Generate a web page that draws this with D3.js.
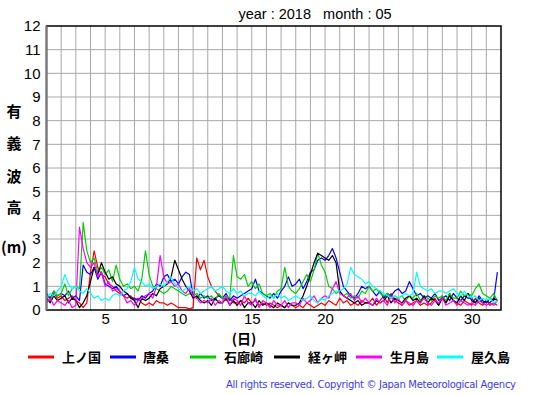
<!DOCTYPE html>
<html>
<head>
<meta charset="utf-8">
<script src="https://cdn.jsdelivr.net/npm/d3@7"></script>
<style>
  body { margin: 0; background: #fff; }
  svg { display: block; }
</style>
</head>
<body>
<div id="chart"></div>
<script>
// six-hourly wave heights (m), 4 values per day, May 1 - May 31
const stations = ["上ノ国", "唐桑", "石廊崎", "経ヶ岬", "生月島", "屋久島"];
const colors = ["#ff0000", "#0000ff", "#00d000", "#000000", "#ff00ff", "#00ffff"];

const kaminokuni = [
  0.6,0.5,0.7,0.5, 0.6,0.4,0.5,0.6, 0.4,0.3,0.1,0.3, 1.6,2.5,1.8,1.5,
  1.4,1.1,1.0,0.8, 0.7,0.6,0.5,0.6, 0.4,0.5,0.3,0.2, 0.3,0.2,0.4,0.3,
  0.3,0.2,0.3,0.2, 0.1,0.1,0.1,0.05, 0.1,2.2,1.7,2.1, 1.4,1.0,0.8,0.6,
  0.5,0.4,0.5,0.3, 0.3,0.4,0.3,0.5, 0.3,0.4,0.2,0.3, 0.2,0.3,0.2,0.1,
  0.2,0.1,0.3,0.2, 0.1,0.2,0.1,0.3, 0.2,0.1,0.2,0.3, 0.2,0.4,0.3,0.2,
  0.5,0.3,0.4,0.2, 0.3,0.2,0.4,0.3, 0.3,0.5,0.2,0.4, 0.6,0.3,0.7,0.4,
  0.3,0.2,0.4,0.2, 0.3,0.4,0.2,0.3, 0.2,0.3,0.5,0.2, 0.6,0.3,0.7,0.4,
  0.3,0.2,0.4,0.3, 0.2,0.5,0.3,0.2, 0.4,0.2,0.3,0.2
];
const karakuwa = [
  0.7,0.5,0.8,0.6, 0.7,0.6,0.8,0.5, 0.6,0.4,1.9,1.6, 1.5,1.8,1.3,1.6,
  1.1,1.0,0.9,1.0, 0.8,0.6,0.7,0.5, 0.5,0.4,0.6,0.5, 0.7,0.8,1.1,1.0,
  1.4,1.5,1.2,1.3, 1.1,1.4,1.6,1.5, 0.6,0.5,0.7,0.5, 0.6,0.4,0.5,0.6,
  0.5,0.7,0.4,0.6, 0.5,0.6,0.7,0.8, 0.9,1.3,0.8,0.7, 0.6,0.5,0.7,0.5,
  0.8,1.0,1.4,1.0, 1.1,1.3,0.9,1.2, 1.6,1.7,2.1,2.2, 2.1,2.3,2.6,2.2,
  1.6,1.0,0.8,0.6, 0.5,0.7,1.0,0.9, 1.0,0.8,0.6,0.8, 0.5,0.7,0.6,0.8,
  0.9,0.7,0.8,1.2, 0.9,0.6,0.7,0.5, 0.6,0.5,0.7,0.4, 0.5,0.6,0.4,0.7,
  0.5,0.4,0.6,0.5, 0.5,0.3,0.6,0.4, 0.3,0.5,0.4,1.6
];
const irozaki = [
  0.5,0.4,0.8,0.6, 0.7,1.1,0.6,0.9, 1.0,0.9,3.7,2.5, 2.0,2.2,1.6,1.8,
  1.5,1.7,1.2,1.9, 1.3,1.0,1.1,0.9, 1.0,0.8,1.3,2.5, 1.5,1.0,0.9,0.8,
  0.7,0.8,1.0,0.9, 0.8,0.7,0.6,0.7, 0.6,0.7,0.5,0.6, 0.5,0.6,0.4,0.7,
  0.5,0.6,0.5,2.3, 1.4,1.3,1.5,1.0, 1.2,0.9,1.1,0.7, 0.6,0.7,0.5,0.8,
  0.9,1.8,1.0,0.8, 0.7,0.9,1.2,1.5, 1.2,1.7,2.4,1.9, 1.6,1.0,0.9,0.7,
  0.8,0.6,0.7,0.5, 0.6,0.5,0.8,0.7, 1.0,0.8,0.9,0.7, 0.6,0.7,0.5,0.6,
  0.5,0.6,0.4,0.6, 0.5,0.7,0.4,0.6, 0.5,0.4,0.6,0.5, 0.6,0.4,0.7,0.5,
  0.5,0.8,0.6,0.7, 0.6,0.9,1.1,0.7, 0.6,0.5,0.7,0.4
];
const kyogamisaki = [
  0.5,0.3,0.6,0.4, 0.5,0.6,0.3,0.5, 0.4,0.1,0.3,0.6, 1.2,1.8,1.5,2.0,
  1.6,1.3,1.4,1.1, 1.0,0.8,0.7,0.5, 0.4,0.1,0.5,0.4, 0.5,0.7,0.6,0.9,
  1.0,1.1,1.4,2.1, 1.7,1.3,1.0,0.8, 0.5,0.6,0.4,0.3, 0.4,0.2,0.5,0.3,
  0.3,0.5,0.2,0.4, 0.2,0.4,0.1,0.3, 0.3,0.1,0.4,0.2, 0.3,0.2,0.1,0.3,
  0.2,0.1,0.3,0.2, 0.2,0.3,0.6,1.0, 1.5,2.0,2.4,2.3, 2.2,2.1,2.3,2.0,
  0.8,0.6,0.5,0.4, 0.3,0.4,0.2,0.3, 0.3,0.2,0.4,0.3, 0.4,0.6,0.3,0.5,
  0.4,0.3,0.5,0.6, 0.4,0.5,0.3,0.6, 0.3,0.5,0.4,0.2, 0.5,0.3,0.6,0.4,
  0.3,0.6,0.4,0.7, 0.4,0.3,0.5,0.3, 0.4,0.3,0.5,0.4
];
const ikitsukishima = [
  0.3,0.5,0.2,0.4, 0.3,0.2,0.4,0.1, 0.2,3.5,2.6,2.0, 1.8,2.0,1.4,1.6,
  1.0,1.2,0.8,0.9, 0.8,0.6,0.3,0.4, 0.2,0.4,0.5,0.6, 0.7,0.5,1.0,2.3,
  1.4,1.1,1.2,1.0, 1.1,0.8,0.7,0.9, 0.6,0.5,0.3,0.4, 0.3,0.5,0.2,0.4,
  0.3,0.6,0.2,0.5, 0.4,0.2,0.6,0.3, 0.2,0.5,0.1,0.4, 0.3,0.1,0.4,0.2,
  0.2,0.4,0.1,0.3, 0.3,0.2,0.5,0.3, 0.4,0.6,0.3,0.5, 0.6,0.5,0.9,1.2,
  0.7,0.6,0.5,0.7, 0.4,0.6,0.3,0.5, 0.3,0.2,0.5,0.3, 0.4,0.2,0.6,0.3,
  0.5,0.2,0.4,0.3, 0.2,0.4,0.3,0.5, 0.3,0.2,0.4,0.3, 0.5,0.2,0.3,0.4,
  0.2,0.4,0.3,0.2, 0.3,0.2,0.4,0.3, 0.2,0.3,0.2,0.4
];
const yakushima = [
  0.5,0.7,0.6,0.8, 1.0,1.5,1.1,0.9, 1.0,0.8,0.7,0.9, 0.7,0.5,0.6,0.4,
  0.5,0.4,0.6,0.7, 0.6,0.8,0.9,1.2, 1.8,1.3,1.2,1.0, 1.1,0.9,1.0,1.1,
  1.0,1.2,1.4,1.1, 0.9,0.8,0.9,1.0, 0.8,0.9,0.7,0.8, 0.9,1.0,0.8,0.9,
  1.0,0.8,0.7,0.9, 0.7,0.8,0.6,0.7, 0.7,0.6,0.8,0.6, 0.5,0.6,0.5,0.7,
  0.5,0.6,0.4,0.5, 0.6,0.5,0.4,0.5, 0.6,0.4,0.3,0.5, 0.4,0.6,0.7,0.8,
  0.8,0.9,1.1,1.8, 1.5,1.4,1.3,1.1, 1.2,1.0,0.9,0.8, 0.7,0.6,0.5,0.6,
  0.5,0.6,0.7,0.6, 0.7,1.6,1.0,0.9, 0.8,0.9,0.7,0.8, 0.8,0.7,0.8,0.9,
  0.7,0.6,0.8,0.6, 0.5,0.6,0.4,0.5, 0.4,0.5,0.3,0.4
];
const seriesValues = [kaminokuni, karakuwa, irozaki, kyogamisaki, ikitsukishima, yakushima];

const xTicks = [5, 10, 15, 20, 25, 30];
const yTicks = [0, 1, 2, 3, 4, 5, 6, 7, 8, 9, 10, 11, 12];
const yLabelChars = ["有", "義", "波", "高", "(m)"];

const W = 555, H = 395;
const margin = {top: 26, right: 54, bottom: 85, left: 46.5},
    width = W - margin.left - margin.right,
    height = H - margin.top - margin.bottom;

const svg = d3.select("#chart")
  .append("svg")
    .attr("width", W)
    .attr("height", H);

const g = svg.append("g")
    .attr("transform", `translate(${margin.left}, ${margin.top})`);

const x = d3.scaleLinear().domain([1, 32]).range([0, width]);
const y = d3.scaleLinear().domain([0, 12]).range([height, 0]);

// grid
g.append("g")
  .selectAll("line")
  .data(d3.range(2, 32))
  .join("line")
    .attr("x1", d => x(d)).attr("x2", d => x(d))
    .attr("y1", 0).attr("y2", height)
    .attr("stroke", "#a8a8a8").attr("stroke-width", 1);
g.append("g")
  .selectAll("line")
  .data(yTicks.slice(1, -1))
  .join("line")
    .attr("x1", 0).attr("x2", width)
    .attr("y1", d => y(d)).attr("y2", d => y(d))
    .attr("stroke", "#a8a8a8").attr("stroke-width", 1);

g.append("clipPath").attr("id", "clip")
  .append("rect").attr("width", width).attr("height", height);

// series
const line = d3.line()
  .x((d, i) => x(1 + i * 0.25))
  .y(d => y(d));

g.append("g").attr("clip-path", "url(#clip)")
  .selectAll("path")
  .data(seriesValues)
  .join("path")
    .attr("d", d => line(d))
    .attr("fill", "none")
    .attr("stroke", (d, i) => colors[i])
    .attr("stroke-width", 1.2)
    .attr("stroke-linejoin", "round");

// frame
g.append("rect")
  .attr("width", width).attr("height", height)
  .attr("fill", "none").attr("stroke", "#000").attr("stroke-width", 1.5);
g.append("line")
  .attr("x1", 0).attr("x2", 0).attr("y1", 0).attr("y2", height)
  .attr("stroke", "#7a7a7a").attr("stroke-width", 2);

// y axis
const yAxis = g.append("g")
  .call(d3.axisLeft(y).tickValues(yTicks).tickSize(0).tickPadding(6));
yAxis.select(".domain").remove();
yAxis.selectAll("text")
  .attr("font-family", "Liberation Sans, Arial, sans-serif")
  .style("font-size", "15px")
  .attr("fill", "#000");

// x axis
const xAxis = g.append("g")
  .attr("transform", `translate(0, ${height})`)
  .call(d3.axisBottom(x).tickValues(xTicks).tickSize(0).tickPadding(3));
xAxis.select(".domain").remove();
xAxis.selectAll("text")
  .attr("font-family", "Liberation Sans, Arial, sans-serif")
  .style("font-size", "15px")
  .attr("fill", "#000");

// title
svg.append("text")
  .attr("x", 315).attr("y", 19)
  .attr("text-anchor", "middle")
  .attr("font-family", "Liberation Sans, Arial, sans-serif")
  .style("font-size", "14.5px")
  .style("white-space", "pre")
  .text("year : 2018   month : 05");

// y label
const jp = "'Noto Sans CJK JP', sans-serif";
svg.append("g")
  .selectAll("text")
  .data(yLabelChars)
  .join("text")
    .attr("x", 14)
    .attr("y", (d, i) => [112, 144, 177, 208, 248][i])
    .attr("dy", "0.35em")
    .attr("text-anchor", "middle")
    .attr("font-family", jp)
    .attr("font-weight", "bold")
    .style("font-size", "15px")
    .text(d => d);

// x label
svg.append("text")
  .attr("x", 244).attr("y", 339)
  .attr("dy", "0.35em")
  .attr("text-anchor", "middle")
  .attr("font-family", jp)
  .attr("font-weight", "bold")
  .style("font-size", "14px")
  .text("(日)");

// legend
const legendX = [28, 110, 190, 274, 356, 437];
const legend = svg.append("g")
  .selectAll("g")
  .data(stations)
  .join("g")
    .attr("transform", (d, i) => `translate(${legendX[i]}, 357)`);
legend.append("line")
  .attr("x1", 0).attr("x2", 26)
  .attr("stroke", (d, i) => colors[i])
  .attr("stroke-width", 3);
legend.append("text")
  .attr("x", (d, i) => i === 1 ? 33 : 34)
  .attr("dy", "0.36em")
  .attr("font-family", jp)
  .attr("font-weight", "bold")
  .style("font-size", "13px")
  .text(d => d);

// copyright
svg.append("text")
  .attr("x", 226).attr("y", 388)
  .attr("textLength", 290)
  .attr("lengthAdjust", "spacing")
  .attr("font-family", "DejaVu Sans, sans-serif")
  .style("font-size", "10px")
  .attr("fill", "#3c3cf0")
  .text("All rights reserved. Copyright © Japan Meteorological Agency");
</script>
</body>
</html>
